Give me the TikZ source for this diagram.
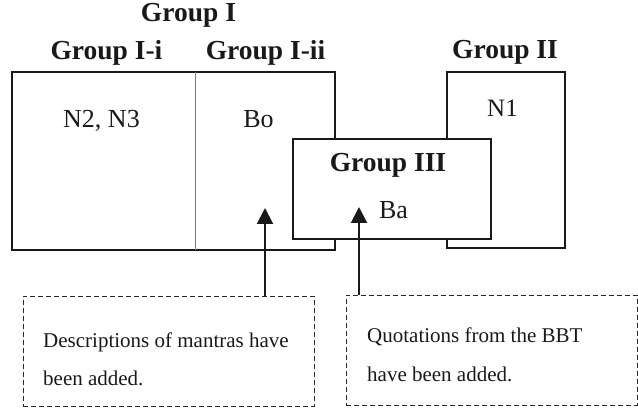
\documentclass[tikz,border=0pt]{standalone}
\usepackage{fontspec}
\setmainfont{Liberation Serif}
\usetikzlibrary{arrows.meta}
\tikzset{
  grpbox/.style={draw=black!90, line width=2.4pt, rectangle, inner sep=0pt, outer sep=0pt, fill=white},
  notebox/.style={draw=black!85, line width=0.8pt, dash pattern=on 5pt off 3pt, rectangle, inner sep=0pt, outer sep=0pt, minimum width=291pt, minimum height=110pt},
  ttl/.style={font=\fontsize{27.5}{30}\selectfont\bfseries, text=black!90, anchor=base, inner sep=0pt},
  lbl/.style={font=\fontsize{26}{28}\selectfont, text=black!90, anchor=base, inner sep=0pt},
  note/.style={font=\fontsize{21}{24}\selectfont, text=black!90, anchor=base west, inner sep=0pt},
  arr/.style={line width=2pt, draw=black!90, -{Triangle[length=16pt,width=16pt]}}
}
\begin{document}
\begin{tikzpicture}[x=1pt,y=-1pt]
\useasboundingbox (0,0) rectangle (638,411);
% boxes
\node[grpbox, minimum width=323pt, minimum height=178pt] (g1) at (173.5,161) {};
\node[grpbox, minimum width=118pt, minimum height=176pt] (g2) at (506,160) {};
\coordinate (div) at (195,0);
\draw[gray, line width=0.8pt] (g1.north -| div) -- (g1.south -| div);
\node[grpbox, minimum width=198pt, minimum height=100pt] (g3) at (392,189) {};
% titles
\node[ttl] (tI) at (188.5,22) {Group I};
\node[ttl] (tIi) at (106.5,60) {Group I-i};
\node[ttl] (tIii) at (265.5,60) {Group I-ii};
\node[ttl] (tII) at (505,59) {Group II};
\node[ttl] (tIII) at (388,172) {Group III};
% labels
\node[lbl] (n23) at (101.5,128) {N2, N3};
\node[lbl] (bo) at (258.5,128) {Bo};
\node[lbl, font=\fontsize{25}{28}\selectfont] (n1) at (502.5,117) {N1};
\node[lbl] (ba) at (393.5,219) {Ba};
% note boxes
\node[notebox] (d1) at (168.5,351) {};
\node[notebox] (d2) at (491.5,350) {};
\node[note] (d1a) at (43,348) {Descriptions of mantras have};
\node[note] (d1b) at (43,386) {been added.};
\node[note] (d2a) at (367,343) {Quotations from the BBT};
\node[note] (d2b) at (367,382) {have been added.};
% arrows
\coordinate (t1) at (265,208);
\coordinate (t2) at (359,207);
\draw[arr] (d1.north -| t1) -- (t1);
\draw[arr] (d2.north -| t2) -- (t2);
\end{tikzpicture}
\end{document}
